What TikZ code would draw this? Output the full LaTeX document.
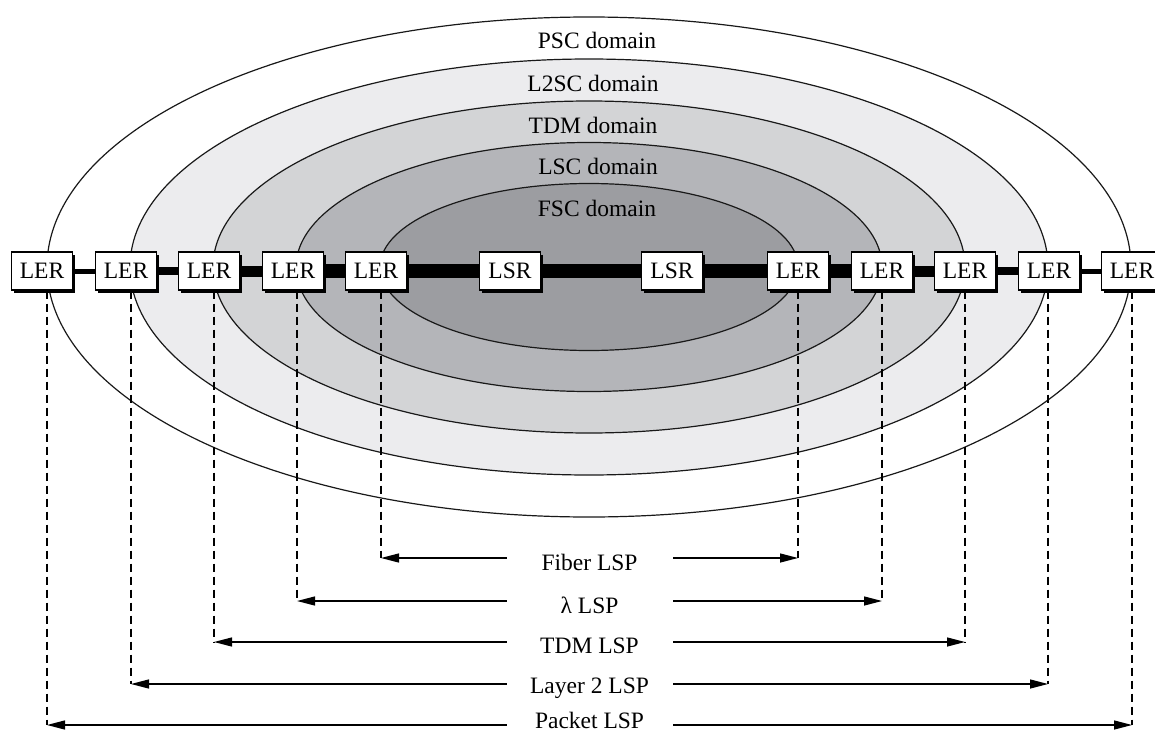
\documentclass[tikz,border=0pt]{standalone}
\usepackage{fontspec}
\setmainfont{Liberation Serif}
\usetikzlibrary{arrows.meta,shadows}
\definecolor{cPSC}{RGB}{255,255,255}
\definecolor{cLTWO}{RGB}{236,236,238}
\definecolor{cTDM}{RGB}{211,212,214}
\definecolor{cLSC}{RGB}{180,181,185}
\definecolor{cFSC}{RGB}{156,157,161}
\begin{document}
\begin{tikzpicture}[x=1pt,y=-1pt,
  dom/.style={draw=black!90,line width=1.2pt},
  txt/.style={font=\fontsize{23.5}{24}\selectfont,inner sep=0pt},
  box/.style={txt,draw,fill=white,line width=1.3pt,minimum width=61pt,minimum height=38pt,
    drop shadow={shadow xshift=2.5pt,shadow yshift=-2.5pt,fill=black,opacity=1}},
  dsh/.style={line width=1.3pt,dash pattern=on 8pt off 5pt},
  lsp/.style={line width=1.3pt,{Triangle[length=18pt,width=9pt]}-{Triangle[length=18pt,width=9pt]}},
  gap/.style={txt,fill=white,minimum width=166pt,minimum height=26pt,yshift=-4pt}
]
\useasboundingbox (0,0) rectangle (1155,733);

% domains
\draw[dom,fill=cPSC]  (589,267) ellipse [x radius=542pt,y radius=250pt];
\draw[dom,fill=cLTWO] (589,267) ellipse [x radius=459pt,y radius=208pt];
\draw[dom,fill=cTDM]  (589,267) ellipse [x radius=376pt,y radius=166pt];
\draw[dom,fill=cLSC]  (589,267) ellipse [x radius=293pt,y radius=124.5pt];
\draw[dom,fill=cFSC]  (589,267) ellipse [x radius=209pt,y radius=83.5pt];

\node[txt] (tPSC) at (597,40)  {PSC domain};
\node[txt] (tL2)  at (593,83)  {L2SC domain};
\node[txt] (tTDM) at (593,125) {TDM domain};
\node[txt] (tLSC) at (598,166) {LSC domain};
\node[txt] (tFSC) at (597,208) {FSC domain};

% routers
\node[box] (l1) at (42,271)  {LER};
\node[box] (l2) at (126,271) {LER};
\node[box] (l3) at (209,271) {LER};
\node[box] (l4) at (293,271) {LER};
\node[box] (l5) at (376,271) {LER};
\node[box] (s1) at (510,271) {LSR};
\node[box] (s2) at (672,271) {LSR};
\node[box] (r5) at (798,271) {LER};
\node[box] (r4) at (882,271) {LER};
\node[box] (r3) at (965,271) {LER};
\node[box] (r2) at (1049,271) {LER};
\node[box] (r1) at (1132,271) {LER};

% links
\draw[line width=5pt]  (l1.east) -- (l2.west);
\draw[line width=8pt]  (l2.east) -- (l3.west);
\draw[line width=11pt] (l3.east) -- (l4.west);
\draw[line width=14pt] (l4.east) -- (l5.west);
\draw[line width=14pt] (l5.east) -- (s1.west);
\draw[line width=14pt] (s1.east) -- (s2.west);
\draw[line width=14pt] (s2.east) -- (r5.west);
\draw[line width=14pt] (r5.east) -- (r4.west);
\draw[line width=11pt] (r4.east) -- (r3.west);
\draw[line width=8pt]  (r3.east) -- (r2.west);
\draw[line width=5pt]  (r2.east) -- (r1.west);

% LSP end points
\coordinate (a5) at (381,558);  \coordinate (b5) at (798,558);
\coordinate (a4) at (297,601);  \coordinate (b4) at (882,601);
\coordinate (a3) at (214,642);  \coordinate (b3) at (965,642);
\coordinate (a2) at (131,684);  \coordinate (b2) at (1048,684);
\coordinate (a1) at (47,725);   \coordinate (b1) at (1132,725);

% dashed drops
\draw[dsh] (l5.south -| a5) -- (a5);
\draw[dsh] (l4.south -| a4) -- (a4);
\draw[dsh] (l3.south -| a3) -- (a3);
\draw[dsh] (l2.south -| a2) -- (a2);
\draw[dsh] (l1.south -| a1) -- (a1);
\draw[dsh] (r5.south -| b5) -- (b5);
\draw[dsh] (r4.south -| b4) -- (b4);
\draw[dsh] (r3.south -| b3) -- (b3);
\draw[dsh] (r2.south -| b2) -- (b2);
\draw[dsh] (r1.south -| b1) -- (b1);

% LSP arrows
\draw[lsp] (a5) -- node[gap] (fib) {Fiber LSP} (b5);
\draw[lsp] (a4) -- node[gap] (lam) {λ LSP} (b4);
\draw[lsp] (a3) -- node[gap] (tdm) {TDM LSP} (b3);
\draw[lsp] (a2) -- node[gap] (lay) {Layer 2 LSP} (b2);
\draw[lsp] (a1) -- node[gap,yshift=9pt,minimum height=18pt] (pkt) {Packet LSP} (b1);
\end{tikzpicture}
\end{document}
